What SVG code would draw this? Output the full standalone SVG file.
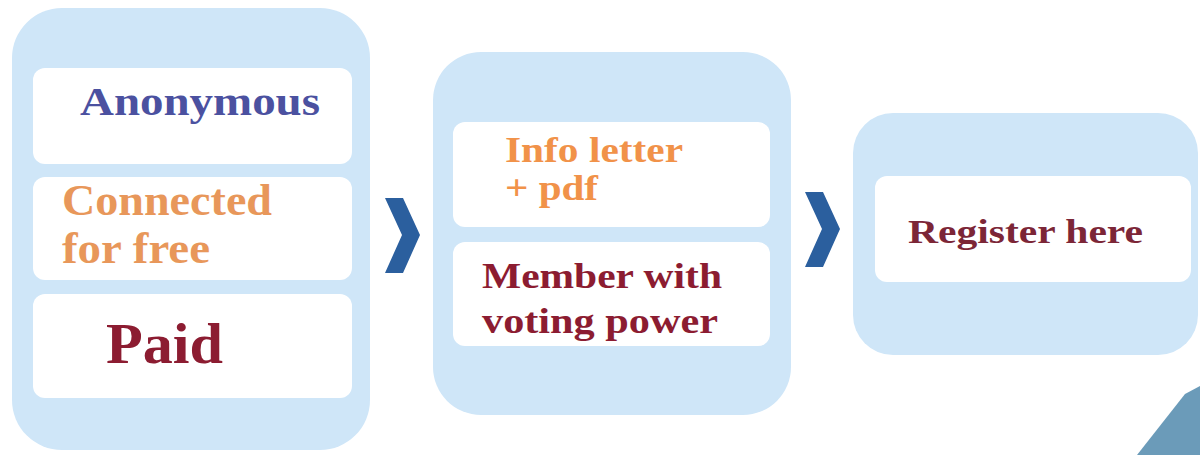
<svg xmlns="http://www.w3.org/2000/svg" width="1200" height="455" viewBox="0 0 1200 455">
<style>
.outer{fill:#cfe6f8}
.inner{fill:#ffffff}
.t{font-family:"Liberation Serif","Times New Roman",serif;font-weight:bold}
.blue{fill:#4b51a0}
.orange{fill:#e8975a}
.orange2{fill:#f19249}
.red{fill:#8c1c31}
.red2{fill:#7c2637}
.chev{fill:#2b5f9e}
</style>
<rect width="1200" height="455" fill="#ffffff"/>
<g id="stage-access">
<rect class="outer" x="12" y="8" width="358" height="442" rx="50"/>
<g id="anonymous">
<rect class="inner" x="33" y="68" width="319" height="96" rx="12"/>
<text class="t blue" x="80" y="115" font-size="40" textLength="240" lengthAdjust="spacingAndGlyphs">Anonymous</text>
</g>
<g id="connected">
<rect class="inner" x="33" y="177" width="319" height="103" rx="12"/>
<text class="t orange" x="62" y="215" font-size="44" textLength="210" lengthAdjust="spacingAndGlyphs">Connected</text>
<text class="t orange" x="62" y="263" font-size="44" textLength="148" lengthAdjust="spacingAndGlyphs">for free</text>
</g>
<g id="paid">
<rect class="inner" x="33" y="294" width="319" height="104" rx="12"/>
<text class="t red" x="106" y="363" font-size="57" textLength="117" lengthAdjust="spacingAndGlyphs">Paid</text>
</g>
</g>
<g id="stage-benefits">
<rect class="outer" x="433" y="52" width="358" height="363" rx="48"/>
<g id="info-letter">
<rect class="inner" x="453" y="122" width="317" height="105" rx="12"/>
<text class="t orange2" x="505" y="162" font-size="36" textLength="178" lengthAdjust="spacingAndGlyphs">Info letter</text>
<text class="t orange2" x="505" y="200" font-size="36" textLength="93" lengthAdjust="spacingAndGlyphs">+ pdf</text>
</g>
<g id="member">
<rect class="inner" x="453" y="242" width="317" height="104" rx="12"/>
<text class="t red" x="482" y="288" font-size="36" textLength="240" lengthAdjust="spacingAndGlyphs">Member with</text>
<text class="t red" x="482" y="333" font-size="36" textLength="236" lengthAdjust="spacingAndGlyphs">voting power</text>
</g>
</g>
<g id="stage-register">
<rect class="outer" x="853" y="113" width="345" height="242" rx="40"/>
<g id="register">
<rect class="inner" x="875" y="176" width="316" height="106" rx="12"/>
<text class="t red2" x="908" y="243" font-size="34" textLength="235" lengthAdjust="spacingAndGlyphs">Register here</text>
</g>
</g>
<g id="connectors">
<polygon class="chev" points="385,198 403,198 420,235 403,273 385,273 402,235"/>
<polygon class="chev" points="805,192 823,192 840,229 823,267 805,267 822,229"/>
</g>
<polygon fill="#6b9bb9" points="1137,455 1185,394 1200,386 1200,455"/>
</svg>
